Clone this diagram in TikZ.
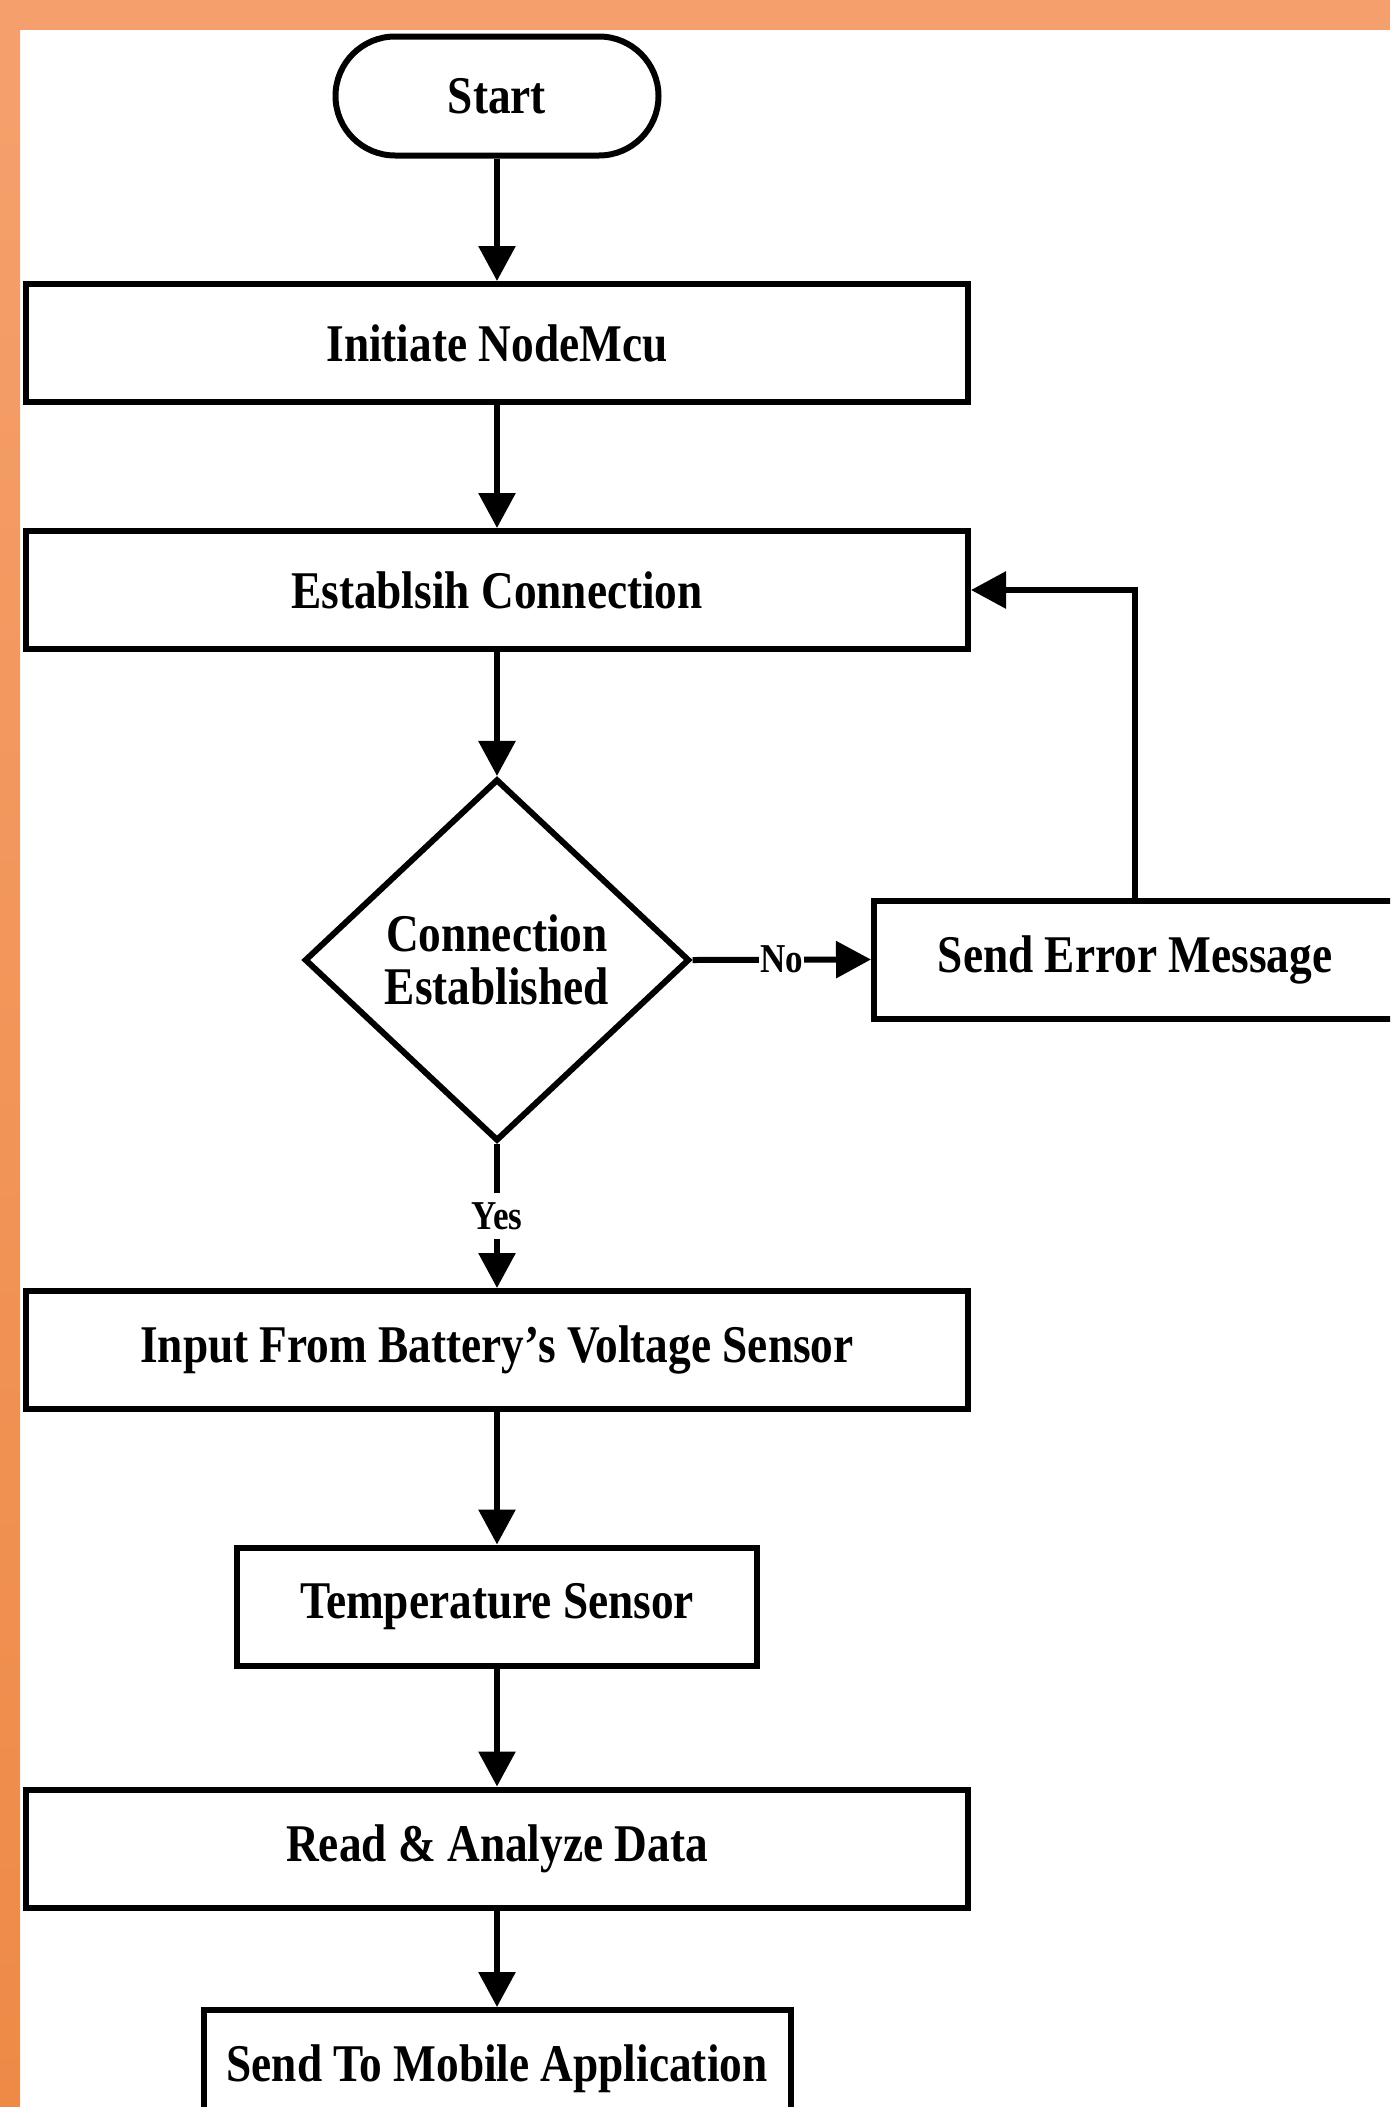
\documentclass[tikz,border=0pt]{standalone}
\usepackage{fontspec}
\setmainfont{Liberation Serif}[FakeStretch=0.855]
\usetikzlibrary{shapes.geometric,shapes.misc,arrows.meta}
\definecolor{bandtop}{HTML}{F5A06C}
\definecolor{bandmid}{HTML}{F68F4B}
\definecolor{bandbot}{HTML}{EE8A46}
\newcommand\bigfnt{\bfseries\fontsize{53}{53}\selectfont}
\newcommand\smallfnt{\bfseries\fontsize{41}{41}\selectfont}
\begin{document}
\begin{tikzpicture}[x=1pt,y=-1pt,
  box/.style={draw,line width=6pt,rectangle,inner sep=0pt,minimum height=118pt,font=\bigfnt,fill=white},
  term/.style={draw,line width=6pt,rounded rectangle,inner sep=0pt,minimum width=323pt,minimum height=119pt,font=\bigfnt,fill=white},
  dec/.style={draw,line width=6pt,diamond,inner sep=0pt,minimum width=385pt,minimum height=362pt,font=\bigfnt,align=center,fill=white},
  arr/.style={line width=6pt,-{Triangle[length=35pt,width=36pt]}},
  lbl/.style={fill=white,font=\smallfnt,inner xsep=1pt,inner ysep=9pt}
]
\clip (0,0) rectangle (1390,2107);
\fill[white] (0,0) rectangle (1390,2107);
\shade[top color=bandtop,middle color=bandmid,bottom color=bandbot] (0,0) rectangle (20,2107);
\fill[bandtop] (0,0) rectangle (1390,30);

\node[term] (start) at (497,96) {Start};
\node[box,minimum width=942pt] (init) at (497,343) {Initiate NodeMcu};
\node[box,minimum width=942pt] (est) at (497,590) {Establsih Connection};
\node[dec] (dec) at (497,960) {Connection\\Established};
\node[box,minimum width=522pt] (err) at (1135,959.5) {Send Error Message};
\node[box,minimum width=942pt] (inp) at (497,1350) {Input From Battery’s Voltage Sensor};
\node[box,minimum width=520pt] (temp) at (497,1606.5) {Temperature Sensor};
\node[box,minimum width=942pt] (read) at (497,1848.5) {Read \& Analyze Data};
\node[box,minimum width=587pt] (mob) at (497,2069) {Send To Mobile Application};

\draw[arr] (start) -- (init);
\draw[arr] (init) -- (est);
\draw[arr] (est) -- (dec);
\draw[arr] (dec.east) -- node[lbl] {No} (err.west);
\draw[arr] (err.north) |- (est.east);
\draw[arr] (dec.south) -- node[lbl] {Yes} (inp.north);
\draw[arr] (inp) -- (temp);
\draw[arr] (temp) -- (read);
\draw[arr] (read) -- (mob);
\end{tikzpicture}
\end{document}
